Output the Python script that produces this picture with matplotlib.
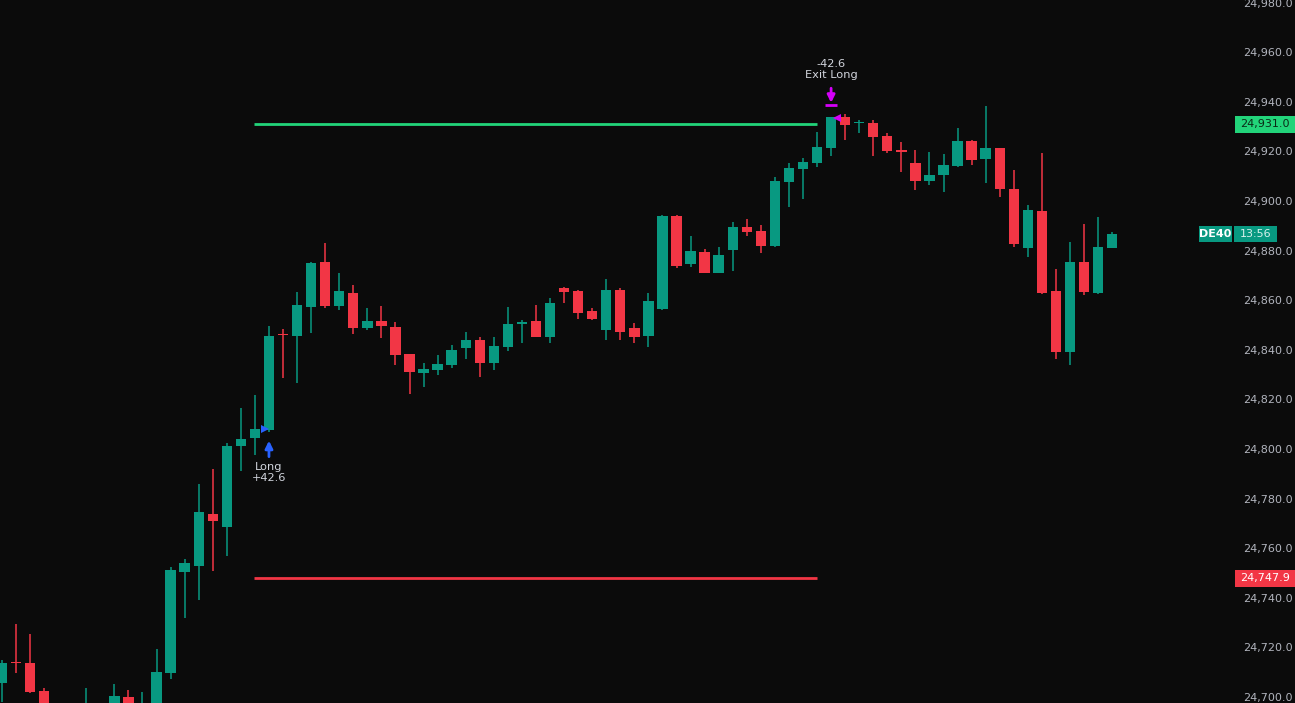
import matplotlib
matplotlib.use("Agg")
import matplotlib.pyplot as plt
import numpy as np
from matplotlib.patches import Rectangle
from matplotlib.transforms import blended_transform_factory, offset_copy

# DE40 candles, one per bar
opens = [24705.6, 24714.0, 24713.7, 24702.4, 24692.0, 24690.0, 24693.0, 24695.0, 24693.0, 24700.0,
         24694.0, 24697.0, 24709.7, 24750.4, 24752.8, 24773.8, 24768.5, 24801.2, 24804.4, 24807.7,
         24846.4, 24845.6, 24857.3, 24875.4, 24857.7, 24862.9, 24848.8, 24851.6, 24849.2, 24838.3,
         24830.6, 24831.9, 24833.9, 24840.7, 24844.0, 24834.7, 24841.1, 24850.4, 24851.6, 24845.2,
         24864.9, 24863.7, 24855.6, 24848.0, 24864.1, 24848.8, 24845.6, 24856.5, 24894.0, 24874.6,
         24879.4, 24871.0, 24880.2, 24889.5, 24887.9, 24881.9, 24907.7, 24912.9, 24915.3, 24921.4,
         24933.9, 24931.5, 24931.5, 24926.2, 24920.6, 24915.3, 24908.1, 24910.5, 24914.1, 24924.2,
         24917.0, 24921.4, 24904.8, 24881.0, 24896.0, 24863.7, 24839.1, 24875.4, 24862.9, 24881.0]
highs = [24715.0, 24729.4, 24725.4, 24703.6, 24696.0, 24695.0, 24703.6, 24697.0, 24705.2, 24702.8,
         24702.0, 24719.4, 24752.4, 24755.6, 24785.9, 24791.9, 24802.4, 24816.5, 24821.8, 24849.6,
         24848.4, 24863.3, 24875.5, 24883.1, 24871.0, 24866.1, 24856.9, 24857.7, 24851.2, 24838.5,
         24834.7, 24837.9, 24841.9, 24847.2, 24845.2, 24845.2, 24857.3, 24852.0, 24858.1, 24860.9,
         24865.2, 24864.0, 24856.9, 24868.5, 24864.9, 24850.8, 24862.9, 24894.5, 24894.5, 24885.9,
         24880.6, 24881.5, 24891.5, 24892.7, 24890.3, 24909.8, 24915.3, 24917.3, 24927.8, 24934.0,
         24935.1, 24932.7, 24932.7, 24927.4, 24923.8, 24920.6, 24919.8, 24919.0, 24929.4, 24924.5,
         24938.3, 24921.5, 24912.5, 24898.4, 24919.4, 24872.6, 24883.5, 24890.7, 24893.5, 24887.5]
lows = [24698.0, 24709.7, 24701.5, 24690.0, 24688.0, 24686.0, 24688.0, 24689.0, 24690.0, 24692.0,
        24690.0, 24694.0, 24707.3, 24731.9, 24739.1, 24750.8, 24756.9, 24791.1, 24797.6, 24807.0,
        24828.6, 24826.6, 24846.8, 24857.0, 24856.0, 24846.4, 24848.0, 24844.8, 24833.9, 24822.2,
        24825.0, 24829.8, 24832.7, 24836.3, 24829.0, 24831.9, 24839.5, 24842.7, 24845.0, 24842.7,
        24858.9, 24852.4, 24852.0, 24844.0, 24844.0, 24842.7, 24841.1, 24856.0, 24873.0, 24873.4,
        24871.0, 24871.0, 24871.8, 24885.9, 24879.0, 24881.5, 24897.6, 24900.8, 24913.7, 24918.1,
        24924.6, 24927.4, 24918.1, 24919.4, 24911.7, 24904.4, 24906.5, 24903.6, 24913.7, 24914.5,
        24907.3, 24901.6, 24881.5, 24877.4, 24862.5, 24836.3, 24833.9, 24862.1, 24862.5, 24881.0]
closes = [24713.7, 24713.6, 24702.0, 24694.0, 24690.0, 24693.0, 24695.0, 24692.0, 24700.4, 24696.0,
          24697.0, 24710.0, 24751.2, 24754.0, 24774.6, 24771.0, 24801.2, 24804.0, 24808.1, 24845.6,
          24846.0, 24858.1, 24875.0, 24857.7, 24863.7, 24848.8, 24851.6, 24849.6, 24837.9, 24831.0,
          24832.3, 24834.3, 24839.9, 24844.0, 24834.7, 24841.5, 24850.4, 24851.2, 24845.2, 24858.9,
          24863.3, 24854.8, 24852.4, 24864.1, 24847.2, 24845.2, 24859.7, 24894.0, 24873.8, 24879.8,
          24871.0, 24878.2, 24889.5, 24887.5, 24881.9, 24908.1, 24913.3, 24915.7, 24921.8, 24933.9,
          24930.6, 24931.8, 24925.8, 24920.2, 24919.8, 24908.1, 24910.5, 24914.5, 24924.2, 24916.5,
          24921.4, 24904.8, 24882.7, 24896.4, 24862.9, 24839.1, 24875.4, 24863.3, 24881.5, 24886.7]

price_ticks = list(range(24700, 24981, 20))

# trade
entry_bar = 19
exit_bar = 59
entry_price = 24808.0
exit_price = 24933.5
take_profit = 24931.0
stop_loss = 24747.9
level_start = 17.95
level_end = 58.0
symbol = "DE40"
countdown = "13:56"

bg = "#0b0b0b"
up_col = "#089981"
down_col = "#f23645"
tp_col = "#22d47a"
text_col = "#b2b5be"

o = np.array(opens)
h = np.array(highs)
l = np.array(lows)
c = np.array(closes)
idx = np.arange(len(o))
cols = np.where(c >= o, up_col, down_col)

fig = plt.figure(figsize=(12.95, 7.03), dpi=100, facecolor=bg)
ax = fig.add_axes([0, 0, 1233 / 1295, 1])
ax.set_facecolor(bg)

ax.vlines(idx, l, h, colors=cols, linewidth=1.1, zorder=2)
body = np.maximum(np.abs(c - o), 0.45)
ax.bar(idx, body, bottom=np.minimum(o, c), width=0.74, color=cols, linewidth=0, zorder=3)

# take profit / stop loss levels
ax.hlines(take_profit, level_start, level_end, colors=tp_col, linewidth=2, zorder=1)
ax.hlines(stop_loss, level_start, level_end, colors=down_col, linewidth=2, zorder=1)

# entry marks
blue = "#2962ff"
ax.plot(entry_bar - 0.27, entry_price, marker=">", color=blue, ms=5.5, mew=0, zorder=4)
ax.annotate("", xy=(entry_bar, l[entry_bar]), xytext=(0, -18), textcoords="offset points",
            arrowprops=dict(arrowstyle="-|>", color=blue, lw=2, shrinkA=0, shrinkB=6.5,
                            mutation_scale=11), zorder=4)
ax.annotate("Long\n+42.6", xy=(entry_bar, l[entry_bar]), xytext=(0, -21.5),
            textcoords="offset points", ha="center", va="top", fontsize=8.2,
            color="#d1d4dc", linespacing=1.15)

# exit marks
mag = "#d500f9"
ax.plot(exit_bar + 0.4, exit_price, marker="<", color=mag, ms=5.5, mew=0, zorder=4)
ax.annotate("", xy=(exit_bar, h[exit_bar]), xytext=(0, 20.5), textcoords="offset points",
            arrowprops=dict(arrowstyle="-|>", color=mag, lw=2, shrinkA=0, shrinkB=10,
                            mutation_scale=11), zorder=4)
bar_tr = offset_copy(ax.transData, fig=fig, x=0, y=8.5, units="points")
ax.plot(exit_bar, h[exit_bar], marker="_", color=mag, ms=8, mew=2, transform=bar_tr, zorder=4)
ax.annotate("-42.6\nExit Long", xy=(exit_bar, h[exit_bar]), xytext=(0, 26.5),
            textcoords="offset points", ha="center", va="bottom", fontsize=8.2,
            color="#d1d4dc", linespacing=1.15)

ax.set_xlim(-0.14, 87.6)
ax.set_ylim(24697.6, 24981.05)
ax.set_xticks([])
ax.yaxis.tick_right()
ax.set_yticks(price_ticks)
ax.set_yticklabels([f"{p:,.1f}" for p in price_ticks])
ax.tick_params(axis="y", length=0, pad=7, labelsize=8, labelcolor=text_col)
for s in ax.spines.values():
    s.set_visible(False)

# price scale tags
tr = blended_transform_factory(fig.transFigure, ax.transData)
box_h = 6.8


def tag(x0, x1, y, txt, face, tcol, weight="normal"):
    ax.add_patch(Rectangle((x0 / 1295, y - box_h / 2), (x1 - x0) / 1295, box_h,
                           transform=tr, facecolor=face, edgecolor="none",
                           clip_on=False, zorder=5))
    ax.text((x0 + x1) / 2 / 1295, y, txt, transform=tr, ha="center", va="center",
            fontsize=8, color=tcol, weight=weight, clip_on=False, zorder=6)


tag(1235, 1295, take_profit, f"{take_profit:,.1f}", tp_col, "#0a2a16")
tag(1235, 1295, stop_loss, f"{stop_loss:,.1f}", down_col, "white")
tag(1199, 1232, c[-1], symbol, up_col, "white", "bold")
tag(1234, 1277, c[-1], countdown, up_col, "#d8f2ec")

fig.savefig("out.png", dpi=100, facecolor=bg)
